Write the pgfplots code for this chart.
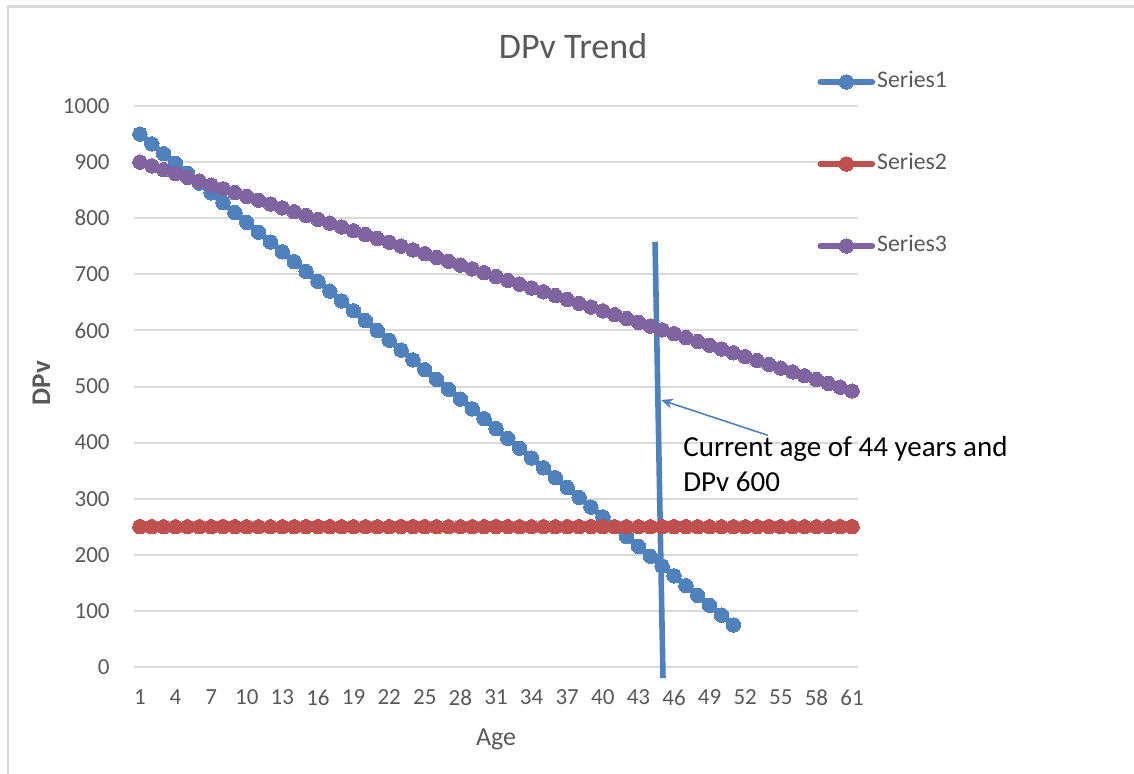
\documentclass[border=0pt]{standalone}
\usepackage{fontspec}
\setmainfont{Carlito}
\usepackage{pgfplots}
\usepackage{pgfplotstable}
\pgfplotsset{compat=1.18}
\usetikzlibrary{arrows.meta}

\definecolor{sone}{HTML}{4F81BD}
\definecolor{stwo}{HTML}{C0504D}
\definecolor{sthree}{HTML}{8064A2}
\definecolor{txtgray}{HTML}{595959}
\definecolor{gridgray}{HTML}{D9D9D9}

% DPv by age
\pgfplotstableread{
age dpv
1 950
2 932.5
3 915
4 897.5
5 880
6 862.5
7 845
8 827.5
9 810
10 792.5
11 775
12 757.5
13 740
14 722.5
15 705
16 687.5
17 670
18 652.5
19 635
20 617.5
21 600
22 582.5
23 565
24 547.5
25 530
26 512.5
27 495
28 477.5
29 460
30 442.5
31 425
32 407.5
33 390
34 372.5
35 355
36 337.5
37 320
38 302.5
39 285
40 267.5
41 250
42 232.5
43 215
44 197.5
45 180
46 162.5
47 145
48 127.5
49 110
50 92.5
51 75
}\seriesone

\pgfplotstableread{
age dpv
1 250
2 250
3 250
4 250
5 250
6 250
7 250
8 250
9 250
10 250
11 250
12 250
13 250
14 250
15 250
16 250
17 250
18 250
19 250
20 250
21 250
22 250
23 250
24 250
25 250
26 250
27 250
28 250
29 250
30 250
31 250
32 250
33 250
34 250
35 250
36 250
37 250
38 250
39 250
40 250
41 250
42 250
43 250
44 250
45 250
46 250
47 250
48 250
49 250
50 250
51 250
52 250
53 250
54 250
55 250
56 250
57 250
58 250
59 250
60 250
61 250
}\seriestwo

\pgfplotstableread{
age dpv
1 900
2 893.2
3 886.4
4 879.6
5 872.8
6 866
7 859.2
8 852.4
9 845.6
10 838.8
11 832
12 825.2
13 818.4
14 811.6
15 804.8
16 798
17 791.2
18 784.4
19 777.6
20 770.8
21 764
22 757.2
23 750.4
24 743.6
25 736.8
26 730
27 723.2
28 716.4
29 709.6
30 702.8
31 696
32 689.2
33 682.4
34 675.6
35 668.8
36 662
37 655.2
38 648.4
39 641.6
40 634.8
41 628
42 621.2
43 614.4
44 607.6
45 600.8
46 594
47 587.2
48 580.4
49 573.6
50 566.8
51 560
52 553.2
53 546.4
54 539.6
55 532.8
56 526
57 519.2
58 512.4
59 505.6
60 498.8
61 492
}\seriesthree

\begin{document}
\begin{tikzpicture}
% page extent and chart frame
\path[use as bounding box] (0,0) rectangle (567pt,-387pt);
\draw[gridgray, line width=1.2pt] (4pt,-387pt) -- (4pt,-3.3pt) -- (567pt,-3.3pt);

\begin{axis}[
  at={(67pt,-333.5pt)}, anchor=south west,
  scale only axis, width=362pt, height=280.5pt,
  xmin=0.5, xmax=61.5, ymin=0, ymax=1000,
  xtick={1,4,...,61}, ytick={0,100,...,1000},
  axis line style={draw=none},
  major tick length=0pt,
  ymajorgrids, grid style={gridgray, line width=1pt},
  /pgf/number format/assume math mode=true,
  /pgf/number format/1000 sep={},
  ticklabel style={font=\fontsize{11.5}{13}\selectfont, text=txtgray},
  xticklabel style={inner sep=0pt, yshift=-11.3pt},
  yticklabel style={inner sep=0pt, xshift=-12pt},
  clip=false,
  legend image code/.code={\draw[mark repeat=2,mark phase=2,#1]
      plot coordinates {(1.3pt,0pt) (14.25pt,0pt) (27.2pt,0pt)};},
  legend style={at={(axis description cs:0.9434,0.8966)}, anchor=west,
      draw=none, fill=none, inner sep=0pt, row sep=31pt,
      font=\fontsize{11.9}{13}\selectfont, text=txtgray,
      nodes={inner sep=0pt, text height=7.5pt, text depth=2.5pt},
      /tikz/column sep=1pt},
  every axis plot/.append style={line width=3pt, line cap=round},
]
\addplot[sone, mark=*, mark size=3.6pt, mark options={solid, line width=0pt, fill=sone, draw=sone}]
  table[x=age, y=dpv] {\seriesone};
\addlegendentry{Series1}
\addplot[stwo, mark=*, mark size=3.6pt, mark options={solid, line width=0pt, fill=stwo, draw=stwo}]
  table[x=age, y=dpv] {\seriestwo};
\addlegendentry{Series2}
\addplot[sthree, mark=*, mark size=3.6pt, mark options={solid, line width=0pt, fill=sthree, draw=sthree}]
  table[x=age, y=dpv] {\seriesthree};
\addlegendentry{Series3}

% current-age marker line and pointer
\draw[sone, line width=2.8pt] (axis cs:44.4,758) -- (axis cs:45.07,-20);
\draw[sone, line width=0.8pt, -{Stealth[length=6pt,width=5pt]}]
  (axis cs:53.9,413) -- (axis cs:44.9,476);
\end{axis}

% titles
\node[anchor=base, text=txtgray, font=\fontsize{18}{20}\selectfont] at (286.5pt,-29.5pt) {DPv Trend};
\node[anchor=base, text=txtgray, font=\fontsize{13}{15}\selectfont] at (248pt,-372.5pt) {Age};
\node[anchor=base, rotate=90, text=txtgray, font=\bfseries\fontsize{13.5}{15}\selectfont] at (25pt,-191.5pt) {DPv};

% annotation
\node[anchor=base west, inner sep=0pt, font=\fontsize{14.5}{17}\selectfont] at (341.5pt,-228.5pt) {Current age of 44 years and};
\node[anchor=base west, inner sep=0pt, font=\fontsize{14.5}{17}\selectfont] at (341.5pt,-245.75pt) {DPv 600};
\end{tikzpicture}
\end{document}
